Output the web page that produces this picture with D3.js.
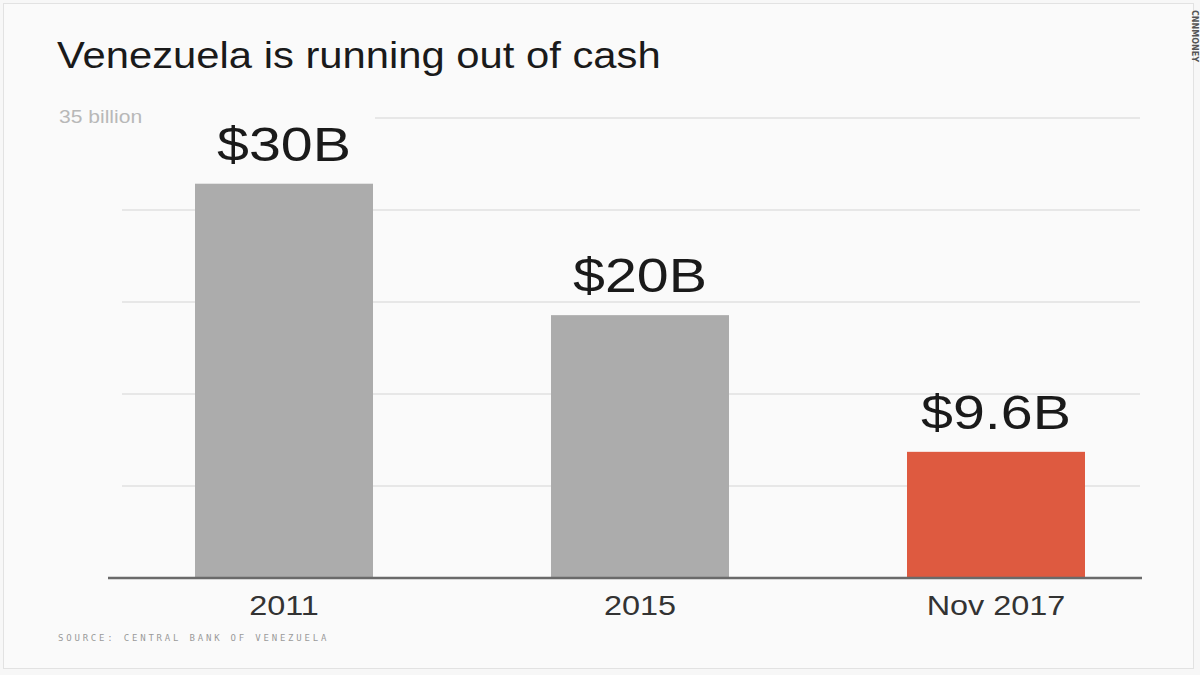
<!DOCTYPE html>
<html>
<head>
<meta charset="utf-8">
<script src="https://d3js.org/d3.v7.min.js"></script>
<style>
  body { margin: 0; background: #f7f7f7; }
  svg { display: block; }
</style>
</head>
<body>
<div id="chart"></div>
<script>
// Data
var categories = ['2011', '2015', 'Nov 2017'],
    values     = [30, 20, 9.6],
    valueText  = ['$30B', '$20B', '$9.6B'],
    gridTicks  = [0, 7, 14, 21, 28, 35];

// Geometry
var width = 1200,
    height = 675;

var font = 'Liberation Sans, Arial, sans-serif';

var svg = d3.select('#chart').append('svg')
    .attr('width', width)
    .attr('height', height);

// the original face is a wider sans, so stretch Liberation a bit
function widen(sel, k) {
  sel.each(function() {
    var w = this.getComputedTextLength();
    d3.select(this)
      .attr('textLength', w * k)
      .attr('lengthAdjust', 'spacingAndGlyphs');
  });
}

// Frame
svg.append('rect')
    .attr('x', 0).attr('y', 0)
    .attr('width', width).attr('height', height)
    .attr('fill', '#f7f7f7');

svg.append('rect')
    .attr('x', 3.5).attr('y', 3.5)
    .attr('width', 1190).attr('height', 665)
    .attr('fill', '#fafafa')
    .attr('stroke', '#e2e2e2');

// Scales
var x = d3.scaleBand()
    .domain(categories)
    .range([106, 1174])
    .paddingInner(0.5)
    .paddingOuter(0.25);

var y = d3.scaleLinear()
    .domain([0, 35])
    .range([578, 118]);

// Gridlines
svg.append('g')
  .selectAll('line')
  .data(gridTicks.slice(1))
  .enter().append('line')
    .attr('x1', function(d) { return d == 35 ? 375 : 122; })
    .attr('x2', 1140)
    .attr('y1', function(d) { return y(d); })
    .attr('y2', function(d) { return y(d); })
    .attr('stroke', '#e0e0e0')
    .attr('stroke-width', 1.5);

// Top tick label
svg.append('text')
    .attr('x', 59)
    .attr('y', 123)
    .attr('font-family', font)
    .attr('font-size', 18)
    .attr('fill', '#b8b8b8')
    .text('35 billion')
    .call(widen, 1.17);

// Bars
svg.append('g')
  .selectAll('rect')
  .data(values)
  .enter().append('rect')
    .attr('x', function(d, i) { return x(categories[i]); })
    .attr('y', function(d) { return y(d); })
    .attr('width', x.bandwidth())
    .attr('height', function(d) { return y(0) - y(d); })
    .attr('fill', function(d, i) { return i == 2 ? '#de5a40' : '#acacac'; });

// Value labels
svg.append('g')
  .selectAll('text')
  .data(values)
  .enter().append('text')
    .attr('x', function(d, i) { return x(categories[i]) + x.bandwidth() / 2; })
    .attr('y', function(d) { return y(d) - 23; })
    .attr('text-anchor', 'middle')
    .attr('font-family', font)
    .attr('font-size', 49)
    .attr('fill', '#1a1a1a')
    .text(function(d, i) { return valueText[i]; })
    .call(widen, 1.17);

// Baseline
svg.append('line')
    .attr('x1', 108).attr('x2', 1142)
    .attr('y1', y(0)).attr('y2', y(0))
    .attr('stroke', '#6a6a6a')
    .attr('stroke-width', 2.5);

// Category labels
svg.append('g')
  .selectAll('text')
  .data(categories)
  .enter().append('text')
    .attr('x', function(d) { return x(d) + x.bandwidth() / 2; })
    .attr('y', 615)
    .attr('text-anchor', 'middle')
    .attr('font-family', font)
    .attr('font-size', 27)
    .attr('fill', '#333')
    .text(function(d) { return d; })
    .call(widen, 1.2);

// Title
svg.append('text')
    .attr('x', 57)
    .attr('y', 68)
    .attr('font-family', font)
    .attr('font-size', 36)
    .attr('fill', '#1a1a1a')
    .text('Venezuela is running out of cash')
    .call(widen, 1.16);

// Source
svg.append('text')
    .attr('x', 58)
    .attr('y', 641)
    .attr('font-family', 'DejaVu Sans Mono, monospace')
    .attr('font-size', 9)
    .attr('letter-spacing', 2.8)
    .attr('fill', '#9a9a9a')
    .text('SOURCE: CENTRAL BANK OF VENEZUELA');

// Brand
svg.append('text')
    .attr('transform', 'translate(1192,10) rotate(90)')
    .attr('font-family', 'DejaVu Sans, sans-serif')
    .attr('font-size', 8)
    .attr('font-weight', 'bold')
    .attr('fill', '#555')
    .text('CNNMONEY');
</script>
</body>
</html>
